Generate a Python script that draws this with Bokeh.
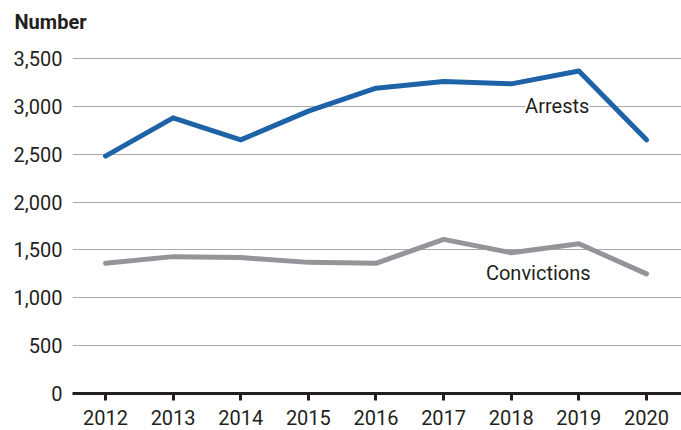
from bokeh.plotting import figure
from bokeh.models import Label, FixedTicker, Range1d, NumeralTickFormatter, Title
from bokeh.embed import file_html
from bokeh.resources import INLINE

years = [2012, 2013, 2014, 2015, 2016, 2017, 2018, 2019, 2020]
arrests = [2480, 2880, 2650, 2950, 3190, 3260, 3235, 3370, 2650]
convictions = [1360, 1430, 1420, 1370, 1360, 1610, 1470, 1565, 1250]
y_ticks = [0, 500, 1000, 1500, 2000, 2500, 3000, 3500]

FONT = "Roboto"
TXT = "#231f20"
FS = "20px"

p = figure(width=681, height=430, output_backend="svg", toolbar_location=None,
           x_range=Range1d(2011.512, 2020.518), y_range=Range1d(0, 3688),
           min_border_left=72, min_border_right=0, min_border_top=40,
           min_border_bottom=37)
p.outline_line_color = None
p.background_fill_color = "white"

p.line(years, arrests, line_color="#1e62a8", line_width=5, line_join="round", line_cap="round")
p.line(years, convictions, line_color="#939598", line_width=5, line_join="round", line_cap="round")

# axes
p.xaxis.ticker = FixedTicker(ticks=years)
p.xaxis.axis_line_width = 3
p.xaxis.axis_line_color = TXT
p.xaxis.major_tick_line_width = 3
p.xaxis.major_tick_line_color = TXT
p.xaxis.major_tick_out = 7
p.xaxis.major_tick_in = 0
p.xaxis.minor_tick_line_color = None
p.xaxis.major_label_text_font = FONT
p.xaxis.major_label_text_font_size = FS
p.xaxis.major_label_text_color = TXT
p.xaxis.major_label_standoff = 9

p.yaxis.ticker = FixedTicker(ticks=y_ticks)
p.yaxis.formatter = NumeralTickFormatter(format="0,0")
p.yaxis.axis_line_color = None
p.yaxis.major_tick_line_color = None
p.yaxis.minor_tick_line_color = None
p.yaxis.major_tick_out = 0
p.yaxis.major_tick_in = 0
p.yaxis.major_label_text_font = FONT
p.yaxis.major_label_text_font_size = FS
p.yaxis.major_label_text_color = TXT
p.yaxis.major_label_standoff = 10

p.xgrid.grid_line_color = None
p.ygrid.ticker = FixedTicker(ticks=y_ticks[1:])
p.ygrid.grid_line_color = "#a7a9ac"
p.ygrid.grid_line_width = 1

p.add_layout(Label(x=2018.68, y=3000, text="Arrests", text_font=FONT, text_font_size=FS,
                   text_color=TXT, text_align="center", text_baseline="middle",
                   background_fill_color="white"))
p.add_layout(Label(x=2018.40, y=1264, text="Convictions", text_font=FONT, text_font_size=FS,
                   text_color=TXT, text_align="center", text_baseline="middle",
                   background_fill_color="white"))

t = Title(text="Number", align="left", offset=-58, standoff=10, vertical_align="top",
          text_font=FONT, text_font_size=FS, text_font_style="bold", text_color=TXT)
p.add_layout(t, "above")

open("out.html", "w").write(file_html(p, INLINE))
